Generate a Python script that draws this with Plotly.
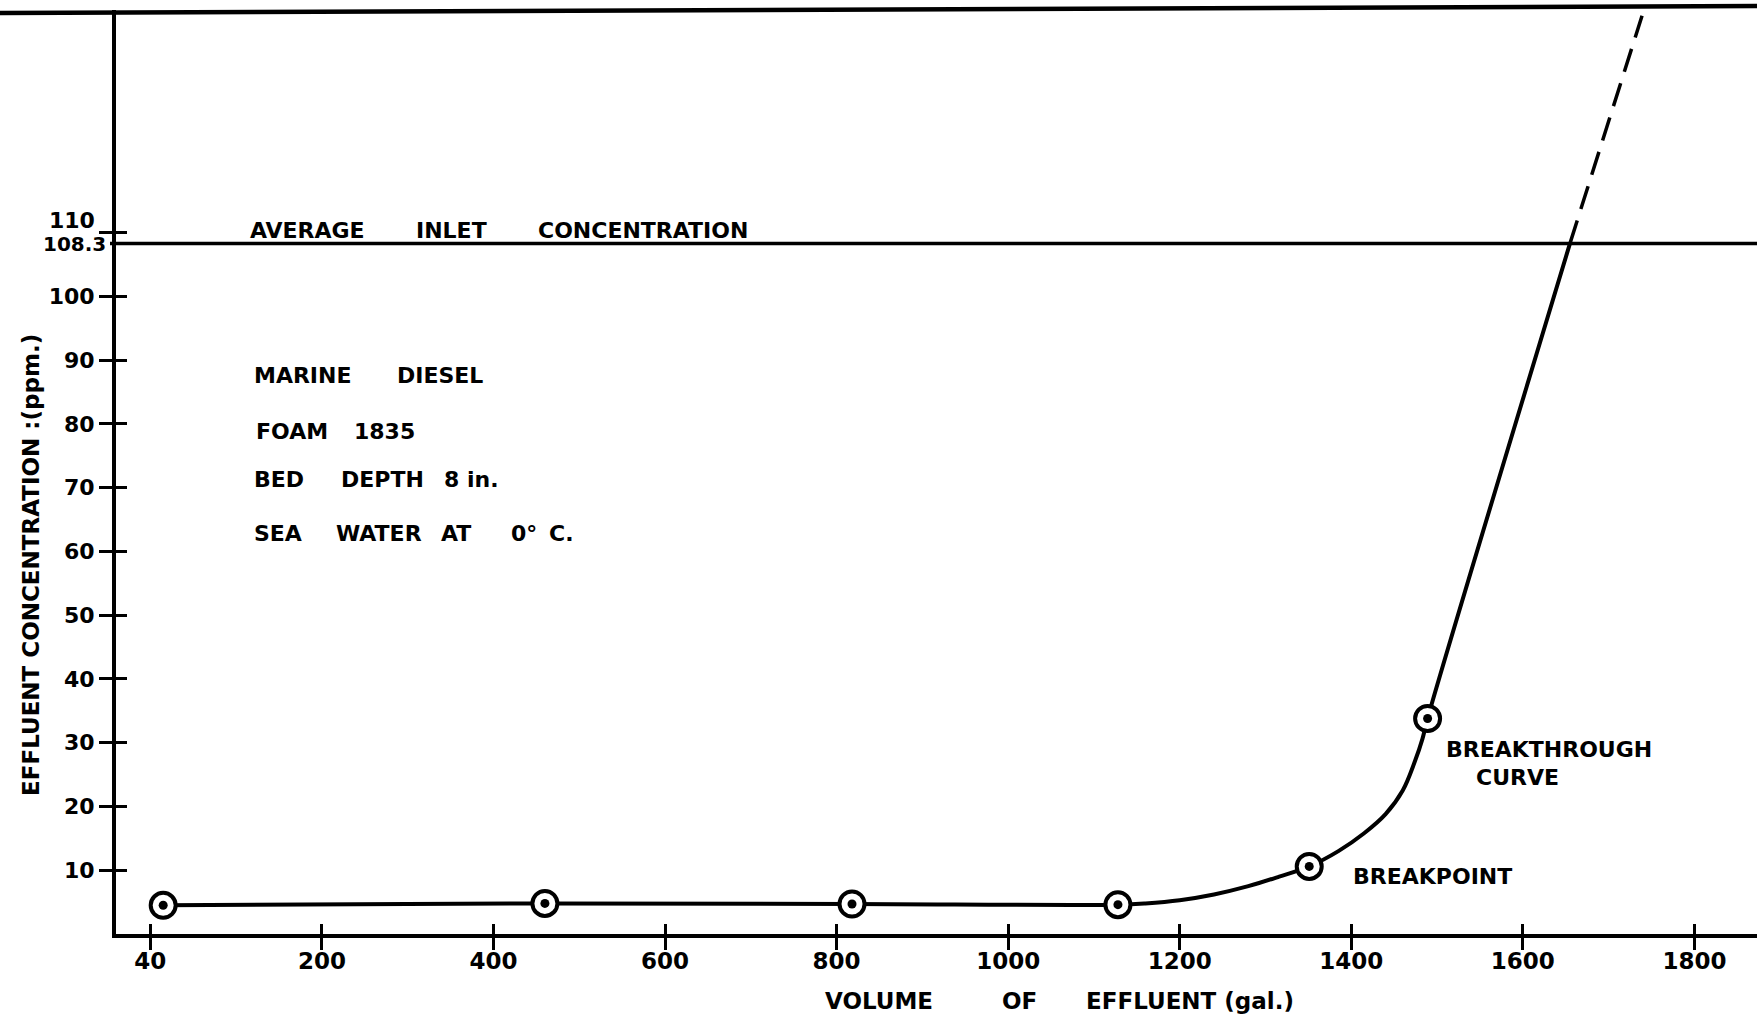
import plotly.graph_objects as go

# Measured effluent samples: volume passed (gal.) and oil concentration (ppm)
volume_gal = [15, 460, 818, 1128, 1351, 1489]
effluent_ppm = [4.5, 4.8, 4.7, 4.6, 10.6, 33.8]

# Breakthrough curve as traced through the samples up to the inlet level
curve_gal = [15, 460, 818, 1128, 1160, 1200, 1240, 1280, 1316, 1351, 1385,
             1415, 1440, 1460, 1474, 1483, 1489, 1655]
curve_ppm = [4.5, 4.8, 4.7, 4.6, 4.8, 5.3, 6.2, 7.5, 9.0, 10.6, 13.0,
             15.8, 18.8, 22.5, 27.0, 30.6, 33.8, 108.3]

# Dashed extension of the curve above the inlet concentration
extrap_gal = [1655, 1739]
extrap_ppm = [108.3, 144]

inlet_ppm = 108.3

x_tickvals = [0, 200, 400, 600, 800, 1000, 1200, 1400, 1600, 1800]
x_ticktext = ["40", "200", "400", "600", "800", "1000", "1200", "1400", "1600", "1800"]
y_tickvals = [10, 20, 30, 40, 50, 60, 70, 80, 90, 100, 110]
y_ticktext = ["10", "20", "30", "40", "50", "60", "70", "80", "90", "100", ""]

W, H = 1757, 1021
L, R, T, B = 116, 0, 10, 87
PW, PH = W - L - R, H - T - B
X_RANGE = [-40, 1873]
Y_RANGE = [0, 144.9]

FONT = "DejaVu Sans, Liberation Sans, Arial, sans-serif"
INK = "black"


def fx(px):
    return (px - L) / PW


def fy(py):
    return (H - B - py) / PH


fig = go.Figure()

fig.add_trace(go.Scatter(
    x=curve_gal, y=curve_ppm, mode="lines",
    line=dict(color=INK, width=4, shape="spline", smoothing=1.0),
    showlegend=False, hoverinfo="skip"))

fig.add_trace(go.Scatter(
    x=extrap_gal, y=extrap_ppm, mode="lines",
    line=dict(color=INK, width=3.5, dash="24px,12px"),
    showlegend=False, hoverinfo="skip"))

# Sample markers: open ring with a solid centre dot
fig.add_trace(go.Scatter(
    x=volume_gal, y=effluent_ppm, mode="markers",
    marker=dict(symbol="circle", size=25, color="white",
                line=dict(color=INK, width=4)),
    showlegend=False, hoverinfo="skip"))
fig.add_trace(go.Scatter(
    x=volume_gal, y=effluent_ppm, mode="markers",
    marker=dict(symbol="circle", size=9, color=INK),
    showlegend=False, hoverinfo="skip"))

# Empty trace so the overlay axes (other half of the tick marks) are drawn
fig.add_trace(go.Scatter(x=[None], y=[None], xaxis="x2", yaxis="y2",
                         showlegend=False, hoverinfo="skip"))


def label(text, xpx, ypx, size=23, angle=0, xanchor="left"):
    fig.add_annotation(
        text=text, xref="paper", yref="paper", x=fx(xpx), y=fy(ypx),
        xanchor=xanchor, yanchor="middle", showarrow=False, textangle=angle,
        font=dict(family=FONT, size=size, color=INK, weight="bold"))


# Inlet concentration reference line
label("AVERAGE", 248, 231, size=22)
label("INLET", 414, 231, size=22)
label("CONCENTRATION", 536, 231, size=22)

# Test conditions
for words, ypx in [
    ([("MARINE", 252), ("DIESEL", 395)], 376),
    ([("FOAM", 254), ("1835", 352)], 431),
    ([("BED", 252), ("DEPTH", 339), ("8 in.", 442)], 480),
    ([("SEA", 252), ("WATER", 334), ("AT", 439), ("0°", 509), ("C.", 547)], 533),
]:
    for w, xpx in words:
        label(w, xpx, ypx, size=22)

label("BREAKTHROUGH", 1444, 749, size=22)
label("CURVE", 1474, 777, size=22)
label("BREAKPOINT", 1351, 876, size=22)

# Y tick labels near the inlet line
label("110", 97, 221, size=22, xanchor="right")
label("108.3", 108, 244, size=20, xanchor="right")

# Axis titles
label("EFFLUENT CONCENTRATION :(ppm.)", 31, 565, size=23, angle=-90,
      xanchor="center")
label("VOLUME", 823, 1001, size=23)
label("OF", 1000, 1001, size=23)
label("EFFLUENT (gal.)", 1084, 1001, size=23)

fig.add_shape(type="line", xref="paper", yref="y",
              x0=fx(110), x1=1, y0=inlet_ppm, y1=inlet_ppm,
              line=dict(color=INK, width=3.5))
# Upper frame rule
fig.add_shape(type="line", xref="paper", yref="paper",
              x0=fx(0), x1=1, y0=fy(13), y1=fy(6),
              line=dict(color=INK, width=4.5))

axis_common = dict(showgrid=False, zeroline=False, tickcolor=INK,
                   tickwidth=3, fixedrange=True)

fig.update_layout(
    width=W, height=H,
    margin=dict(l=L, r=R, t=T, b=B),
    paper_bgcolor="white", plot_bgcolor="white",
    hovermode=False,
    xaxis=dict(range=X_RANGE, tickvals=x_tickvals, ticktext=x_ticktext,
               ticks="inside", ticklen=10, showline=True, linecolor=INK,
               linewidth=4, ticklabelstandoff=3,
               tickfont=dict(family=FONT, size=23, color=INK, weight="bold"),
               **axis_common),
    yaxis=dict(range=Y_RANGE, tickvals=y_tickvals, ticktext=y_ticktext,
               ticks="outside", ticklen=13, showline=True, linecolor=INK,
               linewidth=4,
               tickfont=dict(family=FONT, size=22, color=INK, weight="bold"),
               **axis_common),
    xaxis2=dict(range=X_RANGE, tickvals=x_tickvals, ticks="outside",
                ticklen=15, showticklabels=False, showline=False,
                overlaying="x", anchor="y2", side="bottom", **axis_common),
    yaxis2=dict(range=Y_RANGE, tickvals=y_tickvals, ticks="inside",
                ticklen=11, showticklabels=False, showline=False,
                overlaying="y", anchor="x2", side="left", **axis_common),
)

fig.write_html("out.html")
